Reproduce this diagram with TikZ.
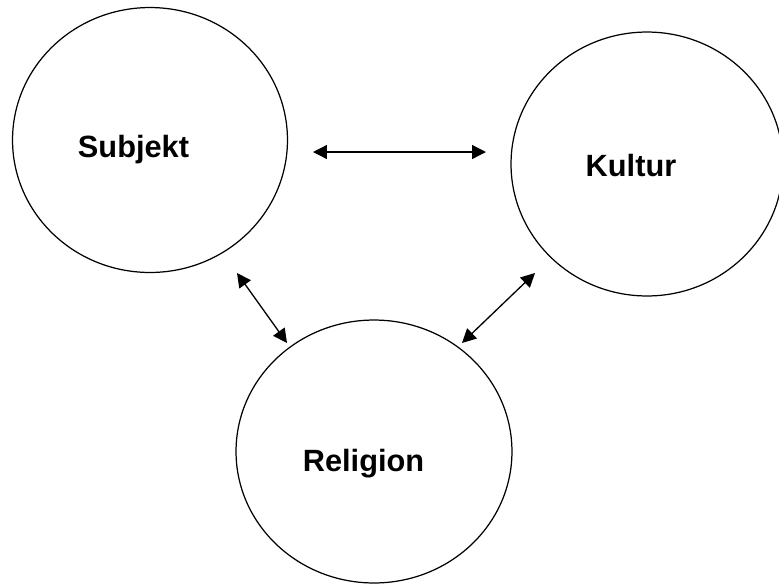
\documentclass[tikz,border=0pt]{standalone}
\usepackage{fontspec}
\setmainfont{Liberation Sans}
\usetikzlibrary{shapes.geometric,arrows.meta}
\tikzset{
  sphere/.style={draw, ellipse, line width=0.7pt, inner sep=0pt},
  word/.style={font=\fontsize{17.5}{20}\selectfont\bfseries, anchor=base, inner sep=0pt}
}
\begin{document}
\begin{tikzpicture}[>={Triangle[length=0.28cm, width=0.28cm]}, x=0.02cm, y=-0.02cm]
    \useasboundingbox (0,0) rectangle (779,586);

    % The three circles
    \node[sphere, minimum width=5.5cm, minimum height=5.3cm] (subj) at (150, 140) {};
    \node[sphere, minimum width=5.44cm, minimum height=5.28cm] (kult) at (647, 164) {};
    \node[sphere, minimum width=5.52cm, minimum height=5.26cm] (reli) at (374, 451.5) {};

    % Labels inside
    \node[word] (subjtxt) at (133.5, 157) {Subjekt};
    \node[word] (kulttxt) at (631, 176) {Kultur};
    \node[word] (relitxt) at (363.5, 471) {Religion};

    % Free arrow ends
    \coordinate (sk1) at (313, 152);
    \coordinate (sk2) at (486, 152);
    \coordinate (sr1) at (237, 273);
    \coordinate (sr2) at (287, 343);
    \coordinate (kr1) at (535, 273);
    \coordinate (kr2) at (462, 343);

    % Double arrows between them
    \draw[<->, line width=0.75pt] (sk1) -- (sk2);
    \draw[<->, line width=0.75pt] (sr1) -- (sr2);
    \draw[<->, line width=0.75pt] (kr1) -- (kr2);
\end{tikzpicture}
\end{document}
